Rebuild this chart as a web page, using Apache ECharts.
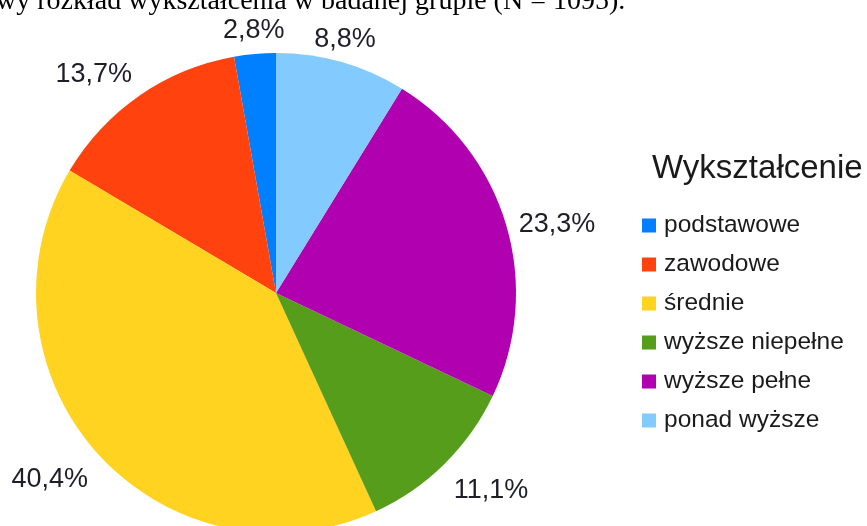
<!DOCTYPE html>
<html>
<head>
<meta charset="utf-8">
<script src="https://cdn.jsdelivr.net/npm/echarts@6/dist/echarts.min.js"></script>
<style>
  html, body { margin: 0; padding: 0; background: #fff; }
  #chart { width: 867px; height: 526px; }
</style>
</head>
<body>
<div id="chart"></div>
<script>
// dane
var categories = ["podstawowe", "zawodowe", "średnie", "wyższe niepełne", "wyższe pełne", "ponad wyższe"];
var values = [2.8, 13.7, 40.4, 11.1, 23.3, 8.8];
var colors = ["#0080ff", "#ff420e", "#ffd320", "#579d1c", "#b000b0", "#83caff"];
var legendTitle = "Wykształcenie";
var caption = "wy rozkład wykształcenia w badanej grupie (N = 1095).";

var pieCenter = [276, 293];
var pieRadius = 240;
var labelGap = 13;

var chart = echarts.init(document.getElementById("chart"));

var seriesData = categories.map(function (name, i) {
  return { name: name, value: values[i], itemStyle: { color: colors[i] } };
});

var option = {
  backgroundColor: "#fff",
  animation: false,
  title: {
    text: legendTitle,
    left: 652,
    top: 153,
    padding: 0,
    textStyle: {
      fontFamily: "Liberation Sans",
      fontSize: 33,
      lineHeight: 32,
      fontWeight: "normal",
      color: "#1a1a1a"
    }
  },
  legend: {
    orient: "vertical",
    left: 642,
    top: 213,
    padding: 0,
    icon: "rect",
    itemWidth: 14,
    itemHeight: 14,
    itemGap: 14,
    selectedMode: false,
    data: categories,
    textStyle: {
      fontFamily: "Liberation Sans",
      fontSize: 24.5,
      lineHeight: 24,
      color: "#1a1a1a",
      padding: [0, 0, 0, 3]
    }
  },
  graphic: [
    {
      type: "text",
      left: -4,
      top: -12,
      style: {
        text: caption,
        font: "28px 'Liberation Serif'",
        fill: "#000"
      }
    }
  ],
  series: [
    {
      type: "pie",
      center: pieCenter,
      radius: pieRadius,
      startAngle: 90,
      clockwise: false,
      avoidLabelOverlap: false,
      silent: true,
      itemStyle: { borderWidth: 0 },
      label: {
        show: true,
        position: "outside",
        fontFamily: "Liberation Sans",
        fontSize: 27,
        color: "#1e1e28",
        formatter: function (p) {
          return String(p.value).replace(".", ",") + "%";
        }
      },
      labelLine: {
        show: true,
        length: 0,
        length2: 0,
        lineStyle: { opacity: 0, width: 0 }
      },
      // etykiety jak w LibreOffice: zakotwiczone tuż za brzegiem koła
      labelLayout: function (params) {
        var pts = params.labelLinePoints;
        if (!pts) return {};
        var dx = pts[0][0] - pieCenter[0];
        var dy = pts[0][1] - pieCenter[1];
        var len = Math.sqrt(dx * dx + dy * dy) || 1;
        var ux = dx / len, uy = dy / len;
        var align = ux > 0.38 ? "left" : (ux < -0.38 ? "right" : "center");
        var vAlign = uy < -0.38 ? "bottom" : (uy > 0.38 ? "top" : "middle");
        return {
          x: pieCenter[0] + ux * (pieRadius + labelGap),
          y: pieCenter[1] + uy * (pieRadius + labelGap) + 3.5,
          align: align,
          verticalAlign: vAlign
        };
      },
      data: seriesData
    }
  ]
};

chart.setOption(option);
</script>
</body>
</html>
